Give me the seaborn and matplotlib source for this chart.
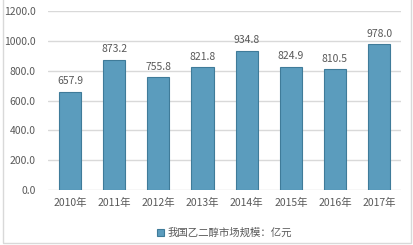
import seaborn as sns
import matplotlib.pyplot as plt
from matplotlib.patches import Rectangle

# chart data
years = ['2010年', '2011年', '2012年', '2013年', '2014年', '2015年', '2016年', '2017年']
market_size = [657.9, 873.2, 755.8, 821.8, 934.8, 824.9, 810.5, 978.0]
series_name = '我国乙二醇市场规模：亿元'

sns.set_style('white')
plt.rcParams['font.family'] = ['Noto Sans CJK SC', 'DejaVu Sans']

text_color = '#595959'

fig = plt.figure(figsize=(4.14, 2.45), dpi=100)
ax = fig.add_axes([0.116, 0.2245, 0.853, 0.7305])

sns.barplot(x=years, y=market_size, color='#5b9cbd', width=0.5, saturation=1,
            edgecolor='#3f7b99', linewidth=0.8, label=series_name, ax=ax)

# value labels above bars
ax.bar_label(ax.containers[0], fmt='%.1f', padding=4, fontsize=7.5, color=text_color)

ax.set_ylim(0, 1200)
ax.set_yticks(range(0, 1201, 200))
ax.set_yticklabels([f'{v:.1f}' for v in range(0, 1201, 200)])
ax.set_xlim(-0.5, len(years) - 0.5)
ax.yaxis.grid(True, color='#d9d9d9', linewidth=1)
ax.set_axisbelow(True)
for s in ax.spines.values():
    s.set_visible(False)
ax.tick_params(axis='both', length=0, labelsize=7.5, colors=text_color)
ax.tick_params(axis='y', pad=9)
ax.tick_params(axis='x', pad=6)
ax.set_xlabel('')
ax.set_ylabel('')

leg = ax.legend(loc='upper center', bbox_to_anchor=(0.5, -0.16), frameon=False,
                fontsize=7.5, handlelength=0.7, handleheight=0.7, handletextpad=0.3)
for t in leg.get_texts():
    t.set_color(text_color)

# light frame around the whole chart (top edge is cut off in the original)
fig.patches.append(Rectangle((0.008, 0.008), 0.984, 1.05, transform=fig.transFigure,
                             fill=False, edgecolor='#d9d9d9', linewidth=1))

fig.savefig('out.png', dpi=100)
